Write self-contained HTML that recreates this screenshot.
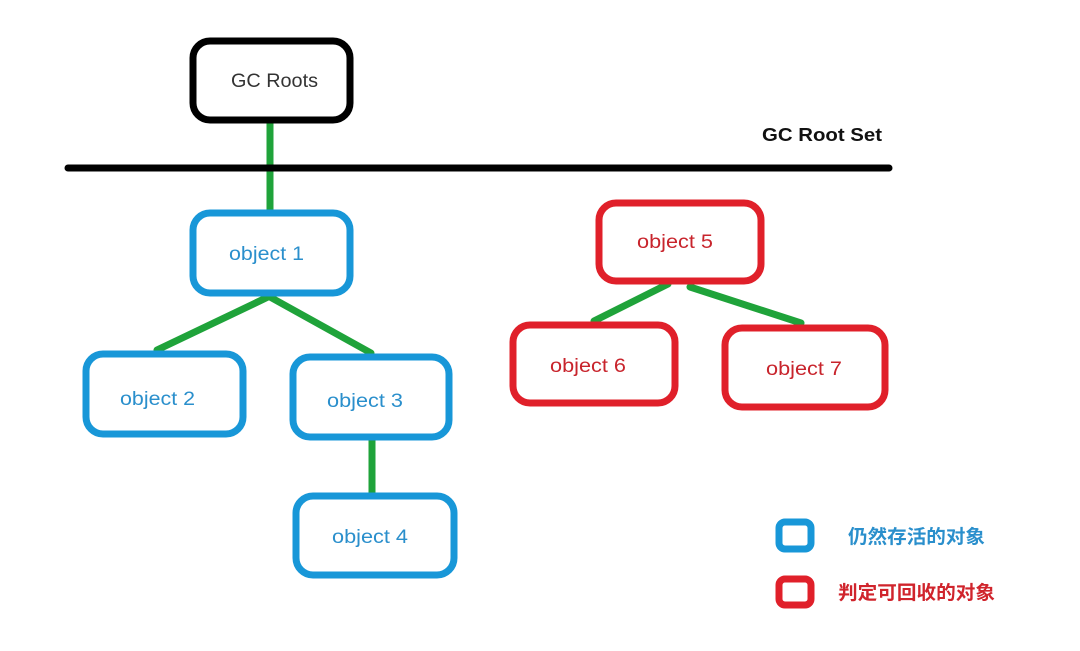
<!DOCTYPE html>
<html><head><meta charset="utf-8"><style>
html,body{margin:0;padding:0;background:#fff;width:1080px;height:651px;overflow:hidden}
svg{display:block}
text{font-family:"Liberation Sans","Noto Sans CJK SC",sans-serif}
</style></head><body>
<svg width="1080" height="651" viewBox="0 0 1080 651" xmlns="http://www.w3.org/2000/svg">
<g stroke="#1fa33a" stroke-width="7" stroke-linecap="round" fill="none">
<line x1="270" y1="122" x2="270" y2="210"/>
<line x1="268" y1="297" x2="157" y2="350"/>
<line x1="270" y1="297" x2="371" y2="353"/>
<line x1="372" y1="440" x2="372" y2="493"/>
<line x1="668" y1="284" x2="594" y2="321"/>
<line x1="690" y1="287" x2="801" y2="323"/>
</g>
<line x1="68" y1="168" x2="889" y2="168" stroke="#000" stroke-width="7" stroke-linecap="round"/>
<text x="762" y="141" font-size="18" font-weight="bold" fill="#111" textLength="120" lengthAdjust="spacingAndGlyphs">GC Root Set</text>
<rect x="193" y="41" width="157" height="79" rx="17" fill="#fff" stroke="#000" stroke-width="7"/>
<text x="231" y="87" font-size="19" fill="#333" textLength="87" lengthAdjust="spacingAndGlyphs">GC Roots</text>
<g fill="#fff" stroke="#1897d8" stroke-width="7">
<rect x="193" y="213" width="157" height="80" rx="17"/>
<rect x="86" y="354" width="157" height="80" rx="17"/>
<rect x="293" y="357" width="156" height="80" rx="17"/>
<rect x="296" y="496" width="158" height="79" rx="17"/>
<rect x="779" y="522" width="32" height="27" rx="6"/>
</g>
<g fill="#fff" stroke="#e0202a" stroke-width="7">
<rect x="599" y="203" width="162" height="78" rx="17"/>
<rect x="513" y="325" width="162" height="78" rx="17"/>
<rect x="725" y="328" width="160" height="79" rx="17"/>
<rect x="779" y="579" width="32" height="26" rx="6"/>
</g>
<g font-size="19" fill="#2a8fcc">
<text x="229" y="260" textLength="75" lengthAdjust="spacingAndGlyphs">object 1</text>
<text x="120" y="405" textLength="75" lengthAdjust="spacingAndGlyphs">object 2</text>
<text x="327" y="407" textLength="76" lengthAdjust="spacingAndGlyphs">object 3</text>
<text x="332" y="543" textLength="76" lengthAdjust="spacingAndGlyphs">object 4</text>
</g>
<g font-size="19" fill="#c8242c">
<text x="637" y="248" textLength="76" lengthAdjust="spacingAndGlyphs">object 5</text>
<text x="550" y="372" textLength="76" lengthAdjust="spacingAndGlyphs">object 6</text>
<text x="766" y="375" textLength="76" lengthAdjust="spacingAndGlyphs">object 7</text>
</g>
<text x="848" y="543" font-size="19" font-weight="bold" fill="#2a8fcc" textLength="137" lengthAdjust="spacingAndGlyphs">仍然存活的对象</text>
<text x="838" y="599" font-size="19" font-weight="bold" fill="#d0242c" textLength="157" lengthAdjust="spacingAndGlyphs">判定可回收的对象</text>
</svg>
</body></html>
